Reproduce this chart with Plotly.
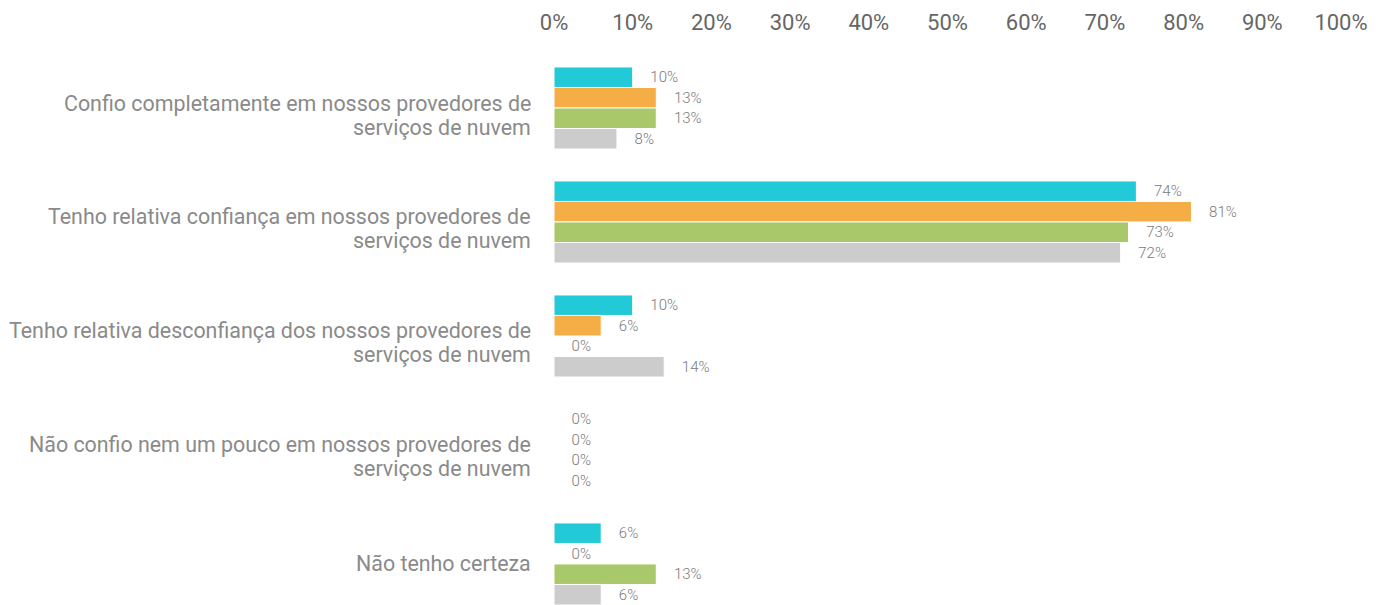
import plotly.graph_objects as go

categorias = [
    "Confio completamente em nossos provedores de serviços de nuvem",
    "Tenho relativa confiança em nossos provedores de serviços de nuvem",
    "Tenho relativa desconfiança dos nossos provedores de serviços de nuvem",
    "Não confio nem um pouco em nossos provedores de serviços de nuvem",
    "Não tenho certeza",
]
# how each category label is split over lines in the chart
linhas_rotulo = [
    ["Confio completamente em nossos provedores de", "serviços de nuvem"],
    ["Tenho relativa confiança em nossos provedores de", "serviços de nuvem"],
    ["Tenho relativa desconfiança dos nossos provedores de", "serviços de nuvem"],
    ["Não confio nem um pouco em nossos provedores de", "serviços de nuvem"],
    ["Não tenho certeza"],
]

serie_1 = [10, 74, 10, 0, 6]
serie_2 = [13, 81, 6, 0, 0]
serie_3 = [13, 73, 0, 0, 13]
serie_4 = [8, 72, 14, 0, 6]

nomes = ["Série 1", "Série 2", "Série 3", "Série 4"]
cores = ["#22C9D6", "#F4AE45", "#A9C86A", "#CCCCCC"]

x_ticks = list(range(0, 101, 10))

fig = go.Figure()
for nome, valores, cor in zip(nomes, [serie_1, serie_2, serie_3, serie_4], cores):
    fig.add_trace(go.Bar(
        y=categorias,
        x=valores,
        name=nome,
        orientation='h',
        marker=dict(color=cor, line=dict(color='white', width=1)),
        text=[f"    {v}%" for v in valores],
        textposition='outside',
        constraintext='none',
        cliponaxis=False,
        textfont=dict(family="Roboto", size=15, color="#7a7a7a", weight=300),
        hovertemplate='%{y}: %{x}%<extra></extra>',
    ))

# category labels as annotations so the two lines sit close together
for cat, linhas in zip(categorias, linhas_rotulo):
    if len(linhas) == 1:
        shifts = [0]
    else:
        shifts = [5, -19]
    for linha, s in zip(linhas, shifts):
        fig.add_annotation(
            x=0, xref='paper', xanchor='right', xshift=-21,
            y=cat, yref='y', yanchor='middle', yshift=s,
            text=linha, showarrow=False,
            font=dict(family="Roboto", size=21.4, color="#8a8a8a"),
        )

fig.update_layout(
    barmode='group',
    bargap=0.28,
    bargroupgap=0,
    showlegend=False,
    width=1378,
    height=597,
    margin=dict(t=43, b=0, l=546, r=45),
    plot_bgcolor='white',
    paper_bgcolor='white',
    font=dict(family="Roboto"),
)
fig.update_xaxes(
    side='top',
    range=[0, 100],
    tickvals=x_ticks,
    ticktext=[f"{v}%" for v in x_ticks],
    showgrid=False,
    zeroline=False,
    showline=False,
    tickfont=dict(family="Roboto", size=22, color="#666666"),
    ticklabelstandoff=16,
)
fig.update_yaxes(
    type='category',
    range=[4.36, -0.5],
    showgrid=False,
    zeroline=False,
    showline=False,
    showticklabels=False,
)

fig.write_html("out.html")
